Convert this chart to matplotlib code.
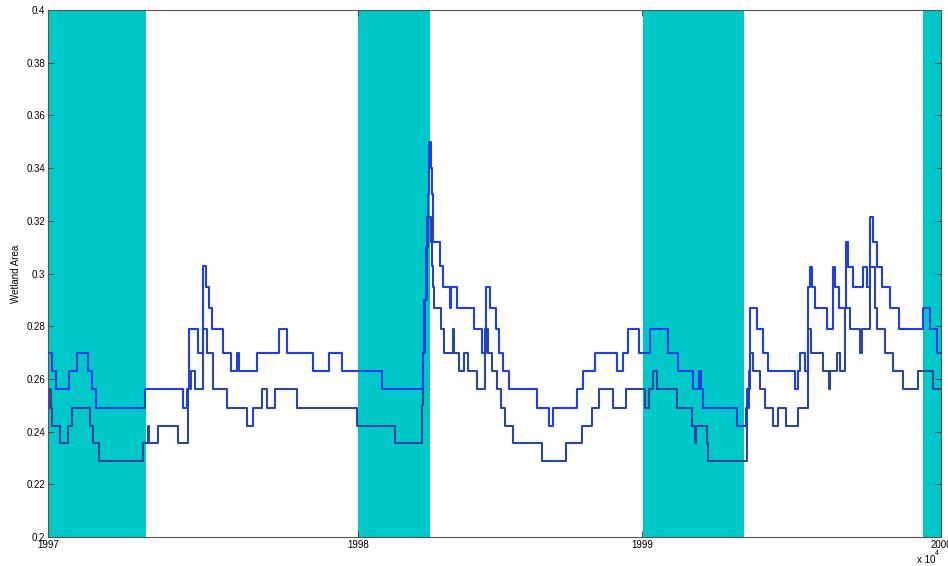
import numpy as np
import matplotlib
matplotlib.use("Agg")
import matplotlib.pyplot as plt
from matplotlib.ticker import FixedLocator, FixedFormatter

plt.rcParams["font.family"] = ["Liberation Sans", "DejaVu Sans"]

# sample index where each year starts, and its label
year_ticks = [0, 310, 594, 893]
year_labels = ["1997", "1998", "1999", "2000"]

# wet-season windows (start, end) in sample index
wet_start = [0, 310, 595, 875]
wet_end = [98, 382, 696, 893]

# wetland area, run 1: (sample index, area) at each step change
run1_steps = [
    (0, 0.270), (4, 0.263), (8, 0.256), (21.3, 0.263), (28.7, 0.270),
    (39.7, 0.263), (43.7, 0.256), (48, 0.249), (97, 0.256), (134.7, 0.249),
    (139.3, 0.256), (141, 0.279), (150.3, 0.270), (154.7, 0.303),
    (158, 0.295), (161.3, 0.287), (163.7, 0.279), (175.3, 0.270),
    (182.7, 0.263), (188.7, 0.270), (191.3, 0.263), (208.7, 0.270),
    (231.3, 0.279), (238.7, 0.270), (264.7, 0.263), (281.3, 0.270),
    (294.3, 0.263), (333.7, 0.256), (374.7, 0.270), (376.5, 0.290),
    (378.5, 0.310), (380, 0.330), (381.3, 0.350), (382.7, 0.340),
    (383.7, 0.330), (384.7, 0.3216), (385.3, 0.312), (392, 0.303),
    (394.7, 0.295), (402, 0.287), (403, 0.295), (409.3, 0.287),
    (426, 0.279), (433.7, 0.270), (438, 0.295), (442, 0.287), (448, 0.279),
    (451.3, 0.270), (455.3, 0.263), (461.3, 0.256), (488.7, 0.249),
    (501, 0.242), (504.7, 0.249), (528.7, 0.256), (535.3, 0.263),
    (547, 0.270), (568.7, 0.263), (575.3, 0.270), (580.3, 0.279),
    (591.3, 0.270), (602, 0.279), (620.3, 0.270), (630.3, 0.263),
    (645.3, 0.256), (651.3, 0.263), (652.7, 0.256), (655.3, 0.249),
    (688.7, 0.242), (698, 0.249), (701, 0.263), (702, 0.287), (709.3, 0.279),
    (715.3, 0.270), (720.3, 0.263), (747, 0.256), (750.3, 0.263),
    (752, 0.270), (757.5, 0.263), (760.3, 0.295), (762, 0.3025),
    (764.3, 0.295), (767, 0.287), (778.7, 0.279), (785.3, 0.3025),
    (787, 0.295), (791.3, 0.287), (798, 0.312), (800.3, 0.3025),
    (804.7, 0.295), (815.3, 0.3025), (818.7, 0.295), (822, 0.3216),
    (825.3, 0.312), (828.7, 0.3025), (833.7, 0.295), (842, 0.287),
    (851.3, 0.279), (875.3, 0.287), (882, 0.279), (888.7, 0.270),
    (893, 0.270),
]

# wetland area, run 2: (sample index, area) at each step change
run2_steps = [
    (0, 0.256), (1, 0.249), (2, 0.256), (3, 0.249), (4.3, 0.242),
    (12, 0.2356), (19.7, 0.242), (23.7, 0.249), (42, 0.242), (45.3, 0.2356),
    (51.3, 0.229), (95.3, 0.2356), (100.3, 0.242), (101.3, 0.2356),
    (110.3, 0.242), (130.3, 0.2356), (140.3, 0.256), (142.7, 0.263),
    (147, 0.256), (154.7, 0.279), (158.7, 0.270), (165.3, 0.256),
    (178.7, 0.249), (198.7, 0.242), (205.3, 0.249), (213.7, 0.256),
    (218.7, 0.249), (227, 0.256), (248.7, 0.249), (309.3, 0.242),
    (347, 0.2356), (373.7, 0.250), (375, 0.270), (377, 0.290),
    (379, 0.3216), (382.7, 0.312), (383.7, 0.303), (384.7, 0.295),
    (386.3, 0.287), (393, 0.279), (396.3, 0.270), (404.7, 0.279),
    (406.3, 0.270), (411.3, 0.263), (416, 0.270), (420.3, 0.263),
    (428.7, 0.256), (437, 0.279), (440.3, 0.270), (443.7, 0.263),
    (448.7, 0.256), (452.7, 0.249), (457, 0.242), (465.3, 0.2356),
    (493.7, 0.229), (518, 0.2356), (533.7, 0.242), (543.7, 0.249),
    (551.3, 0.256), (564.7, 0.249), (578, 0.256), (597, 0.249),
    (601.3, 0.256), (605.3, 0.263), (608.7, 0.256), (628.7, 0.249),
    (643.7, 0.242), (647, 0.2356), (648.5, 0.242), (658.7, 0.2356),
    (660.3, 0.229), (699.3, 0.256), (702, 0.270), (705.3, 0.263),
    (712, 0.256), (717, 0.249), (725.3, 0.242), (730.3, 0.249),
    (737.7, 0.242), (750.3, 0.249), (760.3, 0.279), (762.7, 0.270),
    (775.3, 0.263), (781.3, 0.256), (782.3, 0.263), (788.7, 0.270),
    (792, 0.263), (797, 0.287), (802, 0.279), (812, 0.270), (814, 0.279),
    (822, 0.3025), (827, 0.287), (829, 0.279), (837, 0.270),
    (845.3, 0.263), (855.3, 0.256), (870.3, 0.263), (885.3, 0.256),
    (893, 0.256),
]

t_run1, area_run1 = zip(*run1_steps)
t_run2, area_run2 = zip(*run2_steps)

fig = plt.figure(figsize=(9.48, 5.66), dpi=100)
ax = fig.add_axes([0.0506, 0.0512, 0.942, 0.9311])

for s, e in zip(wet_start, wet_end):
    ax.axvspan(s, e, color="#00c8c8", lw=0, zorder=1)

ax.step(t_run1, area_run1, where="post", color="#1f3fe6", lw=1.5, zorder=3)
ax.step(t_run2, area_run2, where="post", color="#2a46a0", lw=1.5, zorder=2)

ax.set_xlim(0, 893)
ax.set_ylim(0.2, 0.4)
ax.xaxis.set_major_locator(FixedLocator(year_ticks))
ax.xaxis.set_major_formatter(FixedFormatter(year_labels))
yt = np.round(np.arange(0.2, 0.4001, 0.02), 2)
ax.set_yticks(yt)
ax.set_yticklabels([f"{v:g}" for v in yt])
ax.tick_params(direction="in", length=4, width=0.6, labelsize=7,
               top=True, right=True, pad=2, colors="#333333",
               labelcolor="black")
for sp in ax.spines.values():
    sp.set_color("#555555")
    sp.set_linewidth(0.8)
ax.set_ylabel("Wetland Area", fontsize=7, labelpad=4)

# exponent note under the last tick label
fig.text(0.967, 0.002, "x 10", fontsize=7, ha="left", va="bottom")
fig.text(0.9885, 0.0225, "4", fontsize=5, ha="center", va="center")

fig.savefig("out.png", dpi=100)
